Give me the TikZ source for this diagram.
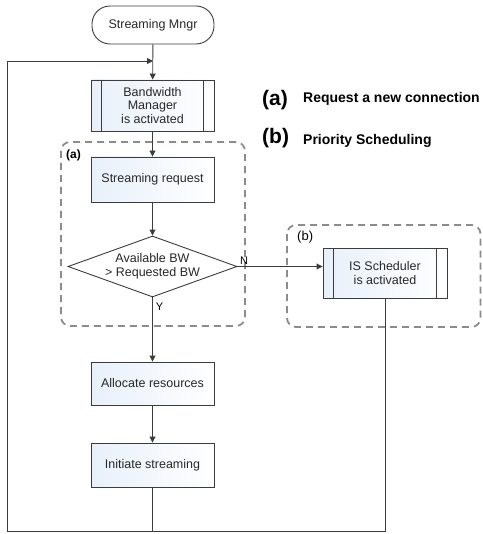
\documentclass[tikz,border=0pt]{standalone}
\usepackage{fontspec}
\setmainfont{Liberation Sans}
\usetikzlibrary{shapes.geometric,arrows.meta,calc}
\definecolor{lineg}{RGB}{60,60,60}
\definecolor{dashg}{RGB}{140,140,140}
\definecolor{fillb}{RGB}{232,240,250}
\definecolor{textg}{RGB}{40,40,40}
\tikzset{
  box/.style={draw=lineg, line width=0.9pt, left color=fillb, right color=white, minimum width=123pt, inner sep=0pt, align=center, text=textg, font=\fontsize{12.5}{13.5}\selectfont},
  proc/.style={box},
  term/.style={draw=lineg, line width=0.9pt, fill=white, rounded corners=18pt, minimum width=122pt, minimum height=38pt, inner sep=0pt, text=textg, font=\fontsize{12.5}{13.5}\selectfont},
  dec/.style={draw=lineg, line width=0.9pt, fill=white, shape=diamond, aspect=2.77, inner sep=0pt, minimum width=169pt, minimum height=61pt, align=center, text=textg, font=\fontsize{12.5}{13.5}\selectfont},
  conn/.style={draw=lineg, line width=0.9pt},
  arr/.style={conn, -{Triangle[width=6pt,length=6pt]}},
  grp/.style={draw=dashg, line width=1.8pt, dash pattern=on 7pt off 5pt, rounded corners=9pt},
  lbl/.style={font=\fontsize{11}{13}\selectfont, inner sep=0pt},
}
\begin{document}
\begin{tikzpicture}[x=1pt,y=1pt]
\useasboundingbox (0,0) rectangle (482,-534);
% group boxes
\draw[grp] (61,-142) rectangle (245,-326);
\draw[grp] (287,-225) rectangle (480.5,-327);
\node[lbl, font=\bfseries\fontsize{12}{13}\selectfont, anchor=west] (ga) at (66,-155) {(a)};
\node[lbl, font=\fontsize{13}{14}\selectfont, anchor=west] (gb) at (297,-237) {(b)};
% nodes
\node[term] (sm) at (153,-25) {Streaming Mngr};
\node[proc, minimum height=51pt] (bm) at (152.5,-105.5) {Bandwidth\\Manager\\is activated};
\draw[conn] ($(bm.north west)+(11,0)$) -- ($(bm.south west)+(11,0)$);
\draw[conn] ($(bm.north east)+(-11,0)$) -- ($(bm.south east)+(-11,0)$);
\node[box, minimum height=45pt] (sr) at (152.5,-179.5) {Streaming request};
\node[dec] (dia) at (152.5,-266.5) {Available BW\\> Requested BW};
\node[proc, minimum width=124pt, minimum height=50pt] (isd) at (385,-273) {IS Scheduler\\is activated};
\draw[conn] ($(isd.north west)+(11,0)$) -- ($(isd.south west)+(11,0)$);
\draw[conn] ($(isd.north east)+(-11,0)$) -- ($(isd.south east)+(-11,0)$);
\node[box, minimum height=43pt] (ar) at (152.5,-383.5) {Allocate resources};
\node[box, minimum height=44pt] (is) at (152.5,-465) {Initiate streaming};
% legend
\node[font=\bfseries\fontsize{21}{22}\selectfont, anchor=west, inner sep=0pt] (la) at (262,-100) {(a)};
\node[font=\bfseries\fontsize{14}{15}\selectfont, anchor=west, inner sep=0pt] (lta) at (303,-99) {Request a new connection};
\node[font=\bfseries\fontsize{21}{22}\selectfont, anchor=west, inner sep=0pt] (lb) at (262,-138) {(b)};
\node[font=\bfseries\fontsize{14}{15}\selectfont, anchor=west, inner sep=0pt] (ltb) at (303,-141) {Priority Scheduling};
% coordinates
\coordinate (join) at (153,-61);
\coordinate (bl) at (7,-531.5);
\coordinate (tl) at (7,-61);
\coordinate (bis) at (152.5,-531.5);
\coordinate (bisd) at (385,-531.5);
% connectors
\draw[arr] (sm) -- (bm);
\draw[arr] (bm) -- (sr);
\draw[arr] (sr) -- (dia);
\draw[arr] (dia.east) -- node[pos=0.03, above, font=\fontsize{11}{12}\selectfont, inner sep=2pt, xshift=4pt] {N} (dia.east -| isd.west);
\draw[arr] (dia.south) -- node[pos=0.15, right, font=\fontsize{11}{12}\selectfont, inner sep=3pt] {Y} (ar.north);
\draw[arr] (ar) -- (is);
\draw[conn] (isd.south) -- (bisd) -- (bl) -- (tl);
\draw[conn] (is.south) -- (bis);
\draw[arr] (tl) -- (join);
\end{tikzpicture}
\end{document}
